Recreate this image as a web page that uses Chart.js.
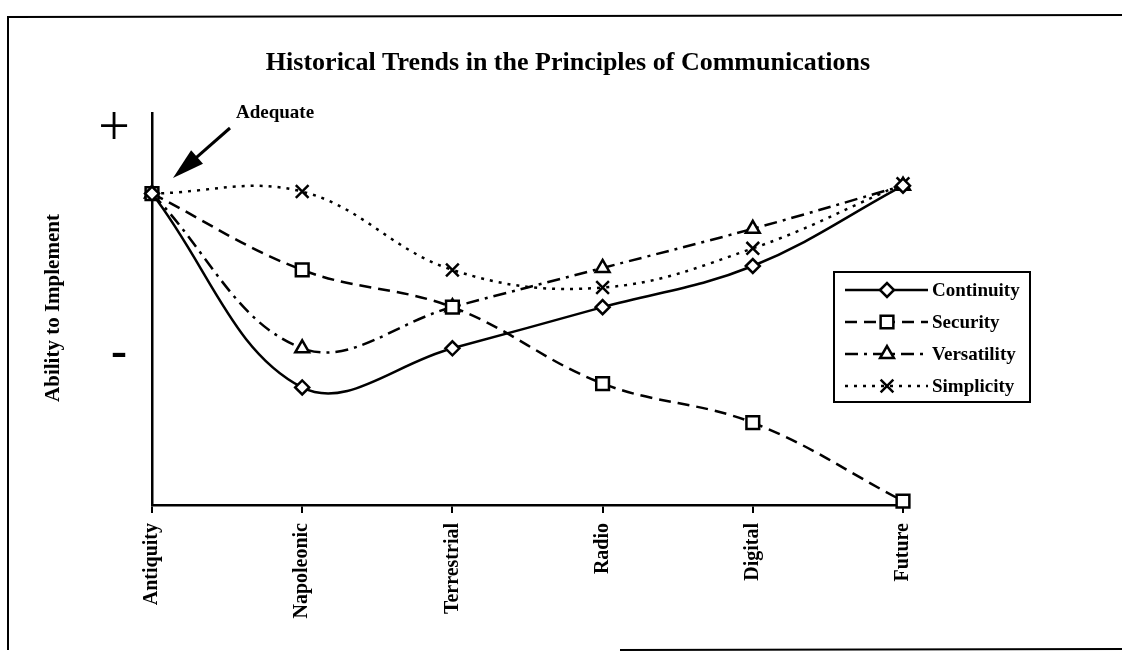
<!DOCTYPE html>
<html>
<head>
<meta charset="utf-8">
<script src="https://cdn.jsdelivr.net/npm/chart.js@4"></script>
<style>
  html, body { margin: 0; padding: 0; background: #fff; }
  #wrap { width: 1122px; height: 652px; }
</style>
</head>
<body>
<div id="wrap"><canvas id="chart" width="1122" height="652"></canvas></div>
<script>
// eras along the bottom
const categories = ['Antiquity', 'Napoleonic', 'Terrestrial', 'Radio', 'Digital', 'Future'];

// ability to implement, 0 = bottom of axis, 10 = top ("+")
const continuity = [7.95, 3.0, 4.0, 5.05, 6.1, 8.15];
const security = [7.95, 6.0, 5.05, 3.1, 2.1, 0.1];
const versatility = [7.95, 4.0, 5.05, 6.05, 7.05, 8.15];
const simplicity = [7.95, 8.0, 6.0, 5.55, 6.55, 8.2];

const seriesNames = ['Continuity', 'Security', 'Versatility', 'Simplicity'];

const SERIF = "'Liberation Serif', 'Times New Roman', serif";

function fixedWidth(w) {
  return function (axis) { axis.width = w; };
}

// frame, +/- marks, axis label, "Adequate" arrow and the boxed legend
const extras = {
  id: 'extras',
  afterDraw(chart) {
    const ctx = chart.ctx;
    ctx.save();
    ctx.strokeStyle = '#000';
    ctx.fillStyle = '#000';

    // outer frame
    ctx.lineWidth = 2;
    ctx.beginPath();
    ctx.moveTo(8, 650);
    ctx.lineTo(8, 17);
    ctx.lineTo(1122, 15);
    ctx.moveTo(620, 650);
    ctx.lineTo(1122, 649);
    ctx.stroke();

    // + and -
    ctx.textAlign = 'center';
    ctx.textBaseline = 'alphabetic';
    ctx.font = '56px ' + SERIF;
    ctx.fillText('+', 114, 145);
    ctx.font = 'bold 48px ' + SERIF;
    ctx.fillText('-', 119, 366);

    // y axis label
    ctx.save();
    ctx.translate(54, 308);
    ctx.rotate(-Math.PI / 2);
    ctx.font = 'bold 21px ' + SERIF;
    ctx.textBaseline = 'middle';
    ctx.fillText('Ability to Implement', 0, 0);
    ctx.restore();

    // Adequate + arrow
    ctx.font = 'bold 19px ' + SERIF;
    ctx.textAlign = 'left';
    ctx.fillText('Adequate', 236, 118);
    const tip = { x: 173, y: 178 }, tail = { x: 230, y: 128 };
    const dx = tail.x - tip.x, dy = tail.y - tip.y, len = Math.hypot(dx, dy);
    const ux = dx / len, uy = dy / len;
    const hl = 32, hw = 9;
    ctx.lineWidth = 3;
    ctx.beginPath();
    ctx.moveTo(tip.x + ux * hl * 0.8, tip.y + uy * hl * 0.8);
    ctx.lineTo(tail.x, tail.y);
    ctx.stroke();
    ctx.beginPath();
    ctx.moveTo(tip.x, tip.y);
    ctx.lineTo(tip.x + ux * hl - uy * hw, tip.y + uy * hl + ux * hw);
    ctx.lineTo(tip.x + ux * hl + uy * hw, tip.y + uy * hl - ux * hw);
    ctx.closePath();
    ctx.fill();

    // legend
    const box = { x: 834, y: 272, w: 196, h: 130 };
    ctx.lineWidth = 2;
    ctx.strokeRect(box.x, box.y, box.w, box.h);
    ctx.font = 'bold 19px ' + SERIF;
    ctx.textBaseline = 'middle';
    chart.data.datasets.forEach((ds, i) => {
      const y = 290 + i * 32;
      ctx.save();
      ctx.lineWidth = ds.borderWidth;
      ctx.setLineDash(ds.borderDash || []);
      ctx.beginPath();
      ctx.moveTo(845, y);
      ctx.lineTo(928, y);
      ctx.stroke();
      ctx.restore();
      ctx.save();
      ctx.fillStyle = '#fff';
      ctx.lineWidth = ds.pointBorderWidth;
      Chart.helpers.drawPoint(ctx, {
        pointStyle: ds.pointStyle, radius: ds.pointRadius,
        rotation: 0, borderWidth: ds.pointBorderWidth
      }, 887, y);
      ctx.restore();
      ctx.fillText(ds.label, 932, y + 1);
    });
    ctx.restore();
  }
};

function series(label, data, dash, style, radius) {
  return {
    label: label,
    data: data,
    borderColor: '#000',
    borderWidth: 2.5,
    borderDash: dash,
    tension: 0.38,
    fill: false,
    clip: false,
    pointStyle: style,
    pointRadius: radius,
    pointBorderWidth: 2.5,
    pointBackgroundColor: '#fff',
    pointBorderColor: '#000'
  };
}

new Chart(document.getElementById('chart'), {
  type: 'line',
  data: {
    labels: categories,
    datasets: [
      series(seriesNames[0], continuity, [], 'rectRot', 7),
      series(seriesNames[1], security, [12, 7], 'rect', 9),
      series(seriesNames[2], versatility, [13, 6, 3, 6], 'triangle', 8),
      series(seriesNames[3], simplicity, [3, 6], 'crossRot', 9)
    ]
  },
  options: {
    responsive: false,
    animation: false,
    layout: { padding: { left: 14, right: 0, top: 0, bottom: 0 } },
    plugins: {
      legend: { display: false },
      tooltip: { enabled: false },
      title: {
        display: true,
        text: 'Historical Trends in the Principles of Communications',
        color: '#000',
        font: { family: SERIF, size: 26, weight: 'bold', lineHeight: 1.2 },
        padding: { top: 48, bottom: 34 }
      }
    },
    scales: {
      x: {
        offset: false,
        grid: { display: true, drawOnChartArea: false, drawTicks: true, tickLength: 8, color: '#000', lineWidth: 2 },
        border: { display: true, color: '#000', width: 2.5 },
        ticks: {
          color: '#000', autoSkip: false, minRotation: 90, maxRotation: 90, padding: 10,
          font: { family: SERIF, size: 20, weight: 'bold' }
        },
        afterFit(axis) { axis.height = 147; }
      },
      y: {
        min: 0, max: 10,
        grid: { display: false },
        border: { display: true, color: '#000', width: 2.5 },
        ticks: { display: false },
        afterFit: fixedWidth(138)
      },
      yRight: {
        position: 'right',
        display: true,
        grid: { display: false },
        border: { display: false },
        ticks: { display: false },
        afterFit: fixedWidth(219)
      }
    }
  },
  plugins: [extras]
});
</script>
</body>
</html>
